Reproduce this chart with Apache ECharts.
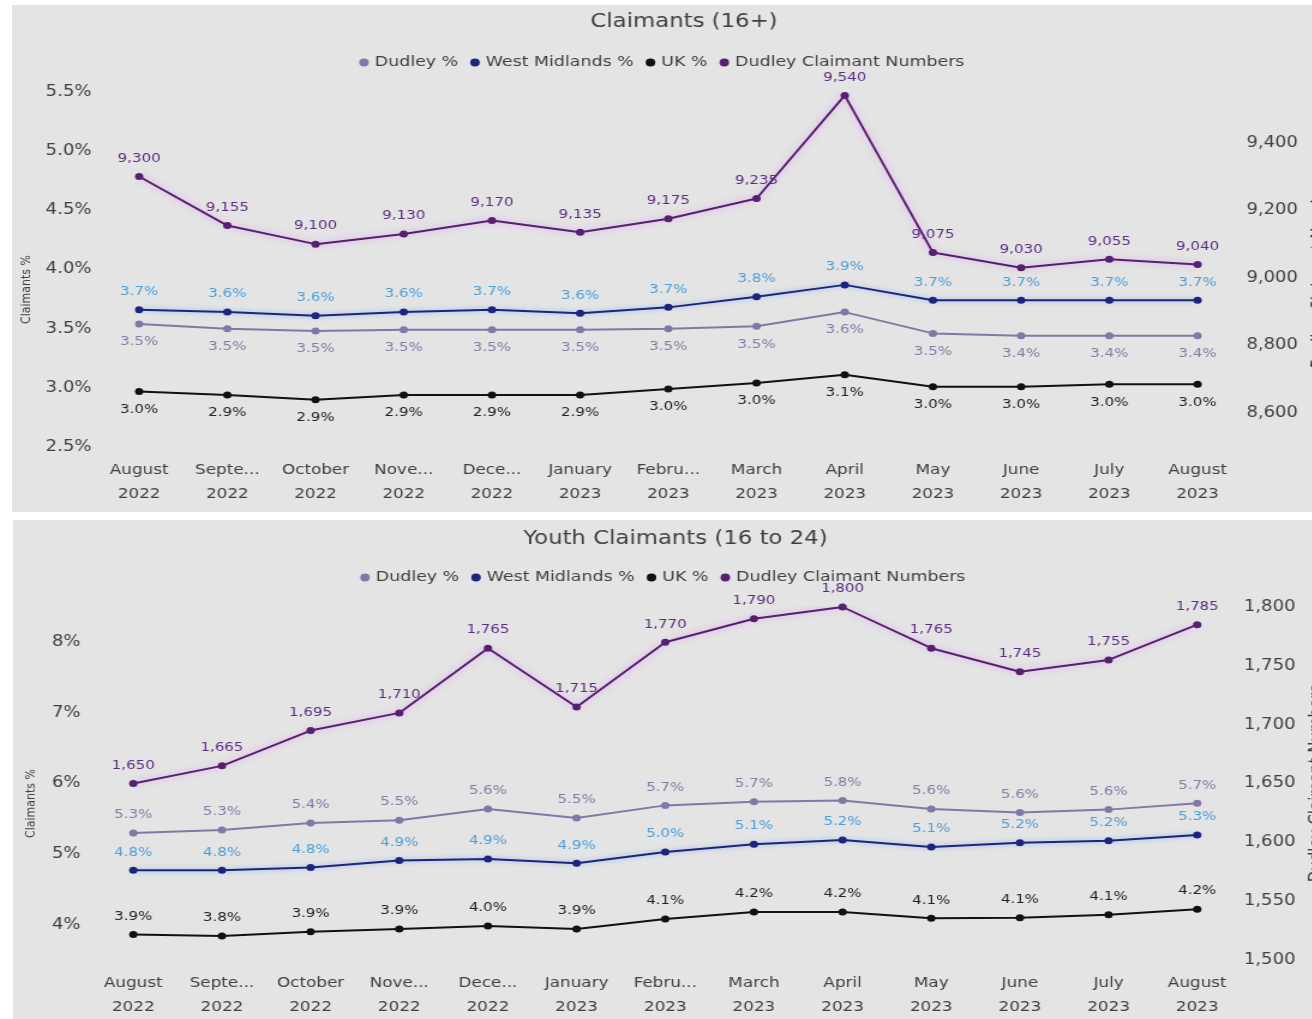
<!DOCTYPE html>
<html>
<head>
<meta charset="utf-8">
<script src="https://cdn.jsdelivr.net/npm/echarts@6/dist/echarts.min.js"></script>
<style>
  html, body { margin: 0; padding: 0; background: #ffffff; width: 1312px; height: 1019px; overflow: hidden; }
  .panel { position: absolute; background: #e4e4e4; overflow: hidden; }
  #p1 { left: 12px; top: 5px; width: 1300px; height: 507px; }
  #p2 { left: 13px; top: 520px; width: 1299px; height: 499px; }
  .inner { position: absolute; left: 0; top: 0; transform-origin: 0 0; transform: scaleX(1.2); }
  #c1 { width: 1083.33px; height: 507px; }
  #c2 { width: 1082.5px; height: 499px; }
</style>
</head>
<body>
<div id="p1" class="panel"><div id="c1" class="inner"></div></div>
<div id="p2" class="panel"><div id="c2" class="inner"></div></div>
<script>
// ---- Data ----
const months = ['August\n2022', 'Septe...\n2022', 'October\n2022', 'Nove...\n2022', 'Dece...\n2022', 'January\n2023',
  'Febru...\n2023', 'March\n2023', 'April\n2023', 'May\n2023', 'June\n2023', 'July\n2023', 'August\n2023'];
const seriesNames = ['Dudley %', 'West Midlands %', 'UK %', 'Dudley Claimant Numbers'];

// Claimants (16+)
const allDudleyPct = [3.54, 3.50, 3.48, 3.49, 3.49, 3.49, 3.50, 3.52, 3.64, 3.46, 3.44, 3.44, 3.44];
const allWMPct = [3.66, 3.64, 3.61, 3.64, 3.66, 3.63, 3.68, 3.77, 3.87, 3.74, 3.74, 3.74, 3.74];
const allUKPct = [2.97, 2.94, 2.90, 2.94, 2.94, 2.94, 2.99, 3.04, 3.11, 3.01, 3.01, 3.03, 3.03];
const allClaimants = [9300, 9155, 9100, 9130, 9170, 9135, 9175, 9235, 9540, 9075, 9030, 9055, 9040];
const allLeftTicks = [2.5, 3.0, 3.5, 4.0, 4.5, 5.0, 5.5];
const allRightTicks = [8600, 8800, 9000, 9200, 9400];

// Youth Claimants (16 to 24)
const youthDudleyPct = [5.30, 5.34, 5.44, 5.48, 5.64, 5.51, 5.69, 5.74, 5.76, 5.64, 5.59, 5.63, 5.72];
const youthWMPct = [4.77, 4.77, 4.81, 4.91, 4.93, 4.87, 5.03, 5.14, 5.20, 5.10, 5.16, 5.19, 5.27];
const youthUKPct = [3.86, 3.84, 3.90, 3.94, 3.98, 3.94, 4.08, 4.18, 4.18, 4.09, 4.10, 4.14, 4.22];
const youthClaimants = [1650, 1665, 1695, 1710, 1765, 1715, 1770, 1790, 1800, 1765, 1745, 1755, 1785];
const youthLeftTicks = [4, 5, 6, 7, 8];
const youthRightTicks = [1500, 1550, 1600, 1650, 1700, 1750, 1800];

// ---- Styling ----
const FONT = 'DejaVu Sans';
const TXT = '#404040';
const C_DUD = '#8676a8';
const C_WM = '#1b2580';
const C_UK = '#111111';
const C_NUM = '#561f70';

function fmtNum(v) { return v.toLocaleString('en-GB'); }

function build(cfg) {
  const pctSeries = (name, data, color, lblColor, pos, glow) => ({
    name: name, type: 'line', data: data, yAxisIndex: 0,
    symbol: 'circle', symbolSize: 7,
    itemStyle: { color: color },
    lineStyle: Object.assign({ color: color, width: 2 }, glow ? { shadowColor: glow, shadowBlur: 5 } : {}),
    label: { show: true, position: pos, distance: 8, color: lblColor, fontFamily: FONT, fontSize: 12.5,
      formatter: p => p.value.toFixed(1) + '%' },
    z: 3
  });
  return {
    animation: false,
    textStyle: { fontFamily: FONT },
    title: { text: cfg.title, left: cfg.titleX, top: cfg.titleTop, textAlign: 'center',
      textStyle: { fontFamily: FONT, fontSize: 19, fontWeight: 'normal', color: TXT } },
    legend: { data: seriesNames, left: 'center', top: cfg.legendTop, icon: 'circle', itemWidth: 8, itemHeight: 8,
      itemGap: 10, textStyle: { fontFamily: FONT, fontSize: 14.5, color: TXT } },
    grid: { left: cfg.grid[0], right: cfg.grid[1], top: cfg.grid[2], bottom: cfg.grid[3],
      containLabel: false, outerBoundsMode: 'none' },
    xAxis: { type: 'category', data: months, boundaryGap: true,
      axisLine: { show: false }, axisTick: { show: false }, splitLine: { show: false },
      axisLabel: { interval: 0, color: TXT, fontFamily: FONT, fontSize: 14, lineHeight: 24, margin: cfg.xMargin } },
    yAxis: [
      { type: 'value', min: cfg.left.min, max: cfg.left.max, interval: cfg.left.interval,
        name: 'Claimants %', nameLocation: 'middle', nameRotate: 90, nameGap: cfg.left.nameGap,
        nameTextStyle: { fontFamily: FONT, fontSize: 11, color: TXT, padding: [0, 40, 0, 0] },
        axisLine: { show: false }, axisTick: { show: false }, splitLine: { show: false },
        axisLabel: { color: TXT, fontFamily: FONT, fontSize: 15, margin: cfg.left.margin,
          formatter: v => cfg.left.ticks.some(t => Math.abs(t - v) < 1e-6) ? v.toFixed(cfg.left.dec) + '%' : '' } },
      { type: 'value', min: cfg.right.min, max: cfg.right.max, interval: cfg.right.interval,
        name: 'Dudley Claimant Numbers', nameLocation: 'middle', nameRotate: 90, nameGap: cfg.right.nameGap,
        nameTextStyle: { fontFamily: FONT, fontSize: 15, color: TXT },
        axisLine: { show: false }, axisTick: { show: false }, splitLine: { show: false },
        axisLabel: { color: TXT, fontFamily: FONT, fontSize: 15, margin: cfg.right.margin,
          formatter: v => cfg.right.ticks.indexOf(v) >= 0 ? fmtNum(v) : '' } }
    ],
    series: [
      pctSeries('Dudley %', cfg.dud, C_DUD, '#7e7ea6', cfg.dudPos, null),
      pctSeries('West Midlands %', cfg.wm, C_WM, '#4a9edb', 'top', 'rgba(110,160,230,0.7)'),
      pctSeries('UK %', cfg.uk, C_UK, '#222222', cfg.ukPos, null),
      { name: 'Dudley Claimant Numbers', type: 'line', data: cfg.num, yAxisIndex: 1,
        symbol: 'circle', symbolSize: 7,
        itemStyle: { color: C_NUM },
        lineStyle: { color: C_NUM, width: 2, shadowColor: 'rgba(225,150,245,0.95)', shadowBlur: 6 },
        label: { show: true, position: 'top', distance: 8, color: '#5e2c82', fontFamily: FONT, fontSize: 12.5,
          formatter: p => fmtNum(p.value) },
        z: 4 }
    ]
  };
}

const chart1 = echarts.init(document.getElementById('c1'));
chart1.setOption(build({
  title: 'Claimants (16+)', titleX: 555, titleTop: 3, legendTop: 45,
  grid: [69.2, 58.3, 87, 65], xMargin: 11,
  left: { min: 2.5, max: 5.5, interval: 0.5, ticks: allLeftTicks, dec: 1, margin: 3, nameGap: 49 },
  right: { min: 8500, max: 9550, interval: 50, ticks: allRightTicks, margin: 4, nameGap: 52 },
  dud: allDudleyPct, wm: allWMPct, uk: allUKPct, num: allClaimants,
  dudPos: 'bottom', ukPos: 'bottom'
}));

const chart2 = echarts.init(document.getElementById('c2'));
chart2.setOption(build({
  title: 'Youth Claimants (16 to 24)', titleX: 547, titleTop: 5, legendTop: 45,
  grid: [63.3, 59.2, 87, 59], xMargin: 11,
  left: { min: 3.5, max: 8.5, interval: 0.5, ticks: youthLeftTicks, dec: 0, margin: 7, nameGap: 43 },
  right: { min: 1500, max: 1800, interval: 50, ticks: youthRightTicks, margin: 2, nameGap: 52 },
  dud: youthDudleyPct, wm: youthWMPct, uk: youthUKPct, num: youthClaimants,
  dudPos: 'top', ukPos: 'top'
}));
</script>
</body>
</html>
